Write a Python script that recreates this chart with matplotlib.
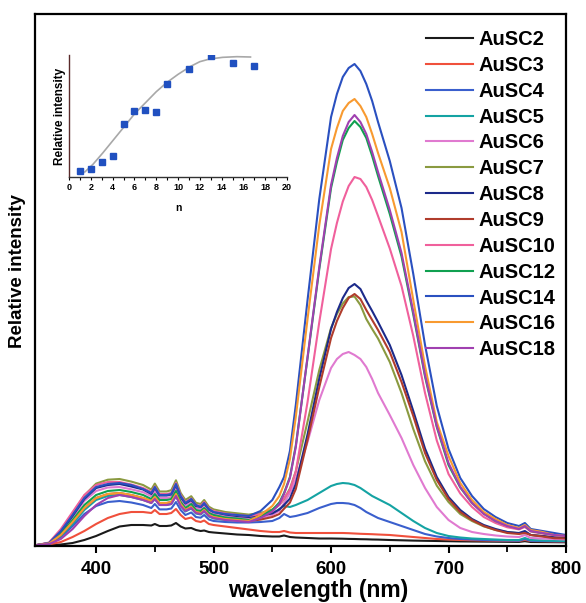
import matplotlib
matplotlib.use("Agg")
import matplotlib.pyplot as plt
from matplotlib.ticker import MultipleLocator, FixedLocator

plt.rcParams['font.family'] = ['Liberation Sans', 'DejaVu Sans']

# ---------------- data ----------------
wavelength = [350, 360, 370, 380, 390, 400, 410, 420, 430, 440, 447, 450, 454, 460, 464, 468, 472, 476,
              481, 485, 489, 492, 496, 500, 510, 520, 530,
              540, 550, 556, 560, 565, 570, 580, 590, 600,
              605, 610, 615, 620, 625, 630, 635, 640,
              650, 660, 670, 680, 690, 700, 710, 720, 730, 740, 750, 760, 765, 770, 780, 790, 800]

labels = ["AuSC2", "AuSC3", "AuSC4", "AuSC5", "AuSC6", "AuSC7", "AuSC8", "AuSC9",
          "AuSC10", "AuSC12", "AuSC14", "AuSC16", "AuSC18"]

colors = ["#1a1a1a", "#f0503c", "#3a5fcd", "#14a3a3", "#e07ad0", "#8a9a40", "#1c2a8a",
          "#b03c2c", "#f0609c", "#10a050", "#2a50c0", "#f89a30", "#a040b0"]

ausc2 = [0, 0, 0.5, 2, 5, 9, 14, 18.5, 20, 20, 19.5, 21, 19, 19, 19.5, 22, 18.5, 16.5, 17, 15, 14, 14.5, 13, 12.5, 11.5, 10.5, 10,
         9, 8.5, 8.5, 9.5, 8, 7.5, 7, 6.5, 6.5,
         6.4, 6.3, 6.1, 6, 5.8, 5.7, 5.5, 5.4,
         5, 4.7, 4.4, 4.2, 4, 3.8, 3.6, 3.5, 3.4, 3.3, 3.2, 3.1, 3.8, 3, 2.9, 2.8, 2.7]
ausc3 = [0, 0.5, 3, 8, 14, 21, 27, 31, 33, 33, 32, 35, 31, 31, 32, 36, 30, 26, 27.5, 24, 23, 24.5, 21, 20, 18.5, 17, 15.5,
         14, 13, 13, 14, 12.5, 12, 12, 12, 12,
         12, 12, 11.8, 11.5, 11.2, 11, 10.8, 10.5,
         10, 9, 8, 7, 6, 5.5, 5, 4.7, 4.5, 4.3, 4.2, 4, 5, 4, 3.8, 3.6, 3.5]
ausc4 = [0, 1, 8, 19, 31, 39, 43, 44, 42.5, 40, 37, 41, 35.6, 35.6, 36.5, 43, 35, 30, 32.5, 28, 27.3, 30, 25.5, 24, 23, 22.5, 22.5,
         23, 24, 27, 31, 28, 29, 32, 37, 41,
         42, 42, 41.5, 40, 37, 33, 30, 27,
         23, 19, 15, 11, 8.5, 7, 6, 5.5, 5, 4.7, 4.5, 4.3, 6, 4.2, 4, 3.8, 3.7]
ausc5 = [0, 1, 9, 21, 35, 45, 49, 50, 48, 45, 42, 46, 40, 40, 41, 49, 39, 33.5, 36.5, 31.5, 30.5, 33.5, 28.5, 26.5, 25, 24.5, 24.5,
         27, 31, 36, 39, 38, 40, 45, 52, 59,
         61, 62, 61.5, 60, 57, 53, 49, 46,
         40, 32, 24, 17, 12, 9, 7.5, 6.5, 6, 5.5, 5, 5, 7, 5, 4.5, 4.2, 4]
ausc6 = [0, 2, 13, 28, 44, 54, 57.5, 58, 55.7, 52.8, 48.7, 54, 47, 47, 48, 57, 45.8, 39.4, 43, 37, 36, 39.4, 33.6, 31.3, 29, 27.8, 26.7,
         27, 30, 34, 42, 52, 66, 103, 145, 177,
         186, 191, 193, 190, 186, 178, 166, 152,
         130, 107, 80, 57, 38, 25, 17, 13, 11, 9.5, 8.5, 8, 10, 7, 6.5, 6, 5.5]
ausc7 = [0, 2, 14.5, 31.7, 49.5, 61.4, 65.3, 66, 63.4, 60, 55.4, 61.4, 53.5, 53.5, 54.8, 64.7, 52, 45, 48.8, 42.2, 41, 45, 38.3, 35.6, 33, 31.7, 30.4,
         32, 35.5, 40.3, 46, 56.4, 73.7, 123.4, 175, 217,
         231, 241.5, 248, 248.5, 240, 226, 216, 206.5,
         183, 152, 116, 83.7, 59.4, 43, 31, 24, 18.6, 15, 13, 11.7, 13, 10, 9, 7.7, 7.5]
ausc8 = [0, 2, 13, 29, 46, 57, 60, 61, 58.5, 55.5, 51, 57, 49.5, 49.5, 50.5, 60, 48, 41.5, 45, 39, 38, 41.5, 35.5, 33, 30.5, 29, 28,
         29.5, 31.6, 35.5, 40, 46.4, 61, 110.6, 166.4, 216,
         233, 247, 257, 261, 256, 244.5, 234, 223,
         200, 170, 134, 96.4, 68, 48, 35, 26, 20, 16, 13, 12, 14, 10, 9, 7.7, 7.4]
ausc9 = [0, 1.5, 10, 23, 37, 47, 51, 52, 50, 47, 44, 48, 42, 42, 43, 51, 41, 35, 38, 33, 32, 35, 30, 28, 26, 25, 24,
         25.4, 28, 31, 36.3, 42.4, 56, 105, 158, 207,
         224, 237, 247, 251, 246, 235, 225, 215,
         193, 163, 129, 92, 65, 46, 33, 25, 19, 15, 12, 11, 12, 10, 8.5, 6.8, 6.6]
ausc10 = [0, 2.5, 16, 33, 50, 60, 63, 63, 60.5, 57, 53, 58.5, 51, 51, 52, 62, 50, 43, 46.5, 40, 39, 43, 36.5, 34, 31.5, 30, 29,
          31, 34.5, 40, 46.5, 55, 73.5, 143, 223, 296,
          322, 343.5, 359, 368, 366, 358, 345, 329,
          296.5, 259, 209, 152, 104.5, 71, 51.5, 38, 28, 22, 17.7, 15.6, 18, 13.4, 11.4, 9.8, 9]
ausc12 = [0, 1.5, 11, 25, 40, 50, 54, 55, 53, 50, 46, 51, 45, 45, 46, 54, 43, 37, 41, 35, 34, 37, 32, 30, 27.5, 26.5, 25,
          29, 35, 42.5, 52, 68, 99.5, 187, 276, 357,
          383, 405, 417, 424, 418, 407, 389, 369,
          331, 288.5, 230.5, 168.5, 118, 80, 57.5, 42, 31.5, 24, 19.5, 16.5, 19, 14, 12, 10.5, 9.5]
ausc14 = [0, 2, 14, 30, 47, 58, 61, 62, 60, 56, 52, 58, 50, 50, 51, 61, 49, 42, 46, 40, 38, 42, 36, 33, 31, 30, 29,
          34, 45, 58, 68, 94, 140, 245, 346, 428,
          451, 468, 477, 481, 474, 461, 444, 423,
          384, 337, 271, 200, 139, 96, 67, 49, 36, 28, 22, 19, 22, 16, 14, 12, 10]
ausc16 = [0, 1.5, 10, 23, 37, 47, 51, 52, 50, 47, 44, 48, 42, 42, 43, 51, 41, 35, 38, 33, 32, 35, 30, 28, 26, 25, 24,
          30, 39, 49, 61, 86, 128, 226, 320, 396,
          417, 434, 442, 446, 439, 428, 411, 392,
          357, 313, 245, 179, 123, 89, 62, 45, 33, 26, 20, 17, 20, 15, 13, 10, 9]
ausc18 = [0, 1, 6, 16, 29, 40, 47, 50, 48, 45, 42, 46, 40, 40, 41, 49, 39, 34, 37, 32, 31, 34, 29, 27, 25, 24, 23,
          27, 33.5, 41, 51, 67, 98, 188, 278, 360,
          387, 409, 423, 430, 423, 411, 393, 373,
          335, 292, 233, 170, 119, 82, 58, 42, 31, 24, 19, 16, 19, 14, 12, 10, 9]

series = [ausc2, ausc3, ausc4, ausc5, ausc6, ausc7, ausc8, ausc9, ausc10, ausc12, ausc14, ausc16, ausc18]

# inset data
inset_n = [1, 2, 3, 4, 5, 6, 7, 8, 9, 11, 13, 15, 17]
inset_intensity = [18, 23, 45, 62, 159, 198, 200, 194, 279, 322, 363, 342, 332]
fit_n = [1.45, 2.2, 3.1, 4.05, 5, 6.04, 7.1, 8, 8.95, 10, 11.1, 12, 12.9, 14.1, 15.4, 16.65]
fit_intensity = [15, 38, 72, 110, 148, 190, 225, 255, 282, 307, 330, 345, 353, 358, 360, 359]

xticks_major = [400, 500, 600, 700, 800]
xticks_minor = [450, 550, 650, 750]
inset_xticks = [0, 2, 4, 6, 8, 10, 12, 14, 16, 18, 20]

# ---------------- figure ----------------
W, H = 586, 603
fig = plt.figure(figsize=(W / 100, H / 100), dpi=100)
ax = fig.add_axes([35 / W, (H - 546) / H, 531 / W, 532 / H])

for y, c, lab in zip(series, colors, labels):
    ax.plot(wavelength, y, color=c, lw=1.5, label=lab)

ax.set_xlim(348, 800)
ax.set_ylim(-1, 531)
ax.set_yticks([])
ax.xaxis.set_major_locator(FixedLocator(xticks_major))
ax.xaxis.set_minor_locator(FixedLocator(xticks_minor))
ax.tick_params(axis='x', which='major', direction='out', length=5, width=1.5, labelsize=13.5, pad=6)
ax.tick_params(axis='x', which='minor', direction='out', length=4, width=1.3)
for lbl in ax.get_xticklabels():
    lbl.set_fontweight('bold')
for s in ax.spines.values():
    s.set_linewidth(1.6)
ax.set_xlabel('wavelength (nm)', fontsize=16.5, fontweight='bold')
ax.xaxis.set_label_coords((318 - 35) / 531, (546 - 591) / 532)
ax.xaxis.label.set_va('center')
ax.set_ylabel('Relative intensity', fontsize=13.5, fontweight='bold')
ax.yaxis.set_label_coords((18 - 35) / 531, (546 - 271) / 532)
ax.yaxis.label.set_va('center')

leg = ax.legend(loc='upper right', frameon=False, handlelength=2.35, handletextpad=0.25,
                labelspacing=0.34, borderaxespad=0.0, bbox_to_anchor=(0.995, 0.985),
                prop={'weight': 'bold', 'size': 14.5})

# ---------------- inset ----------------
ax2 = fig.add_axes([69 / W, (H - 177) / H, 218 / W, 122 / H])
ax2.plot(fit_n, fit_intensity, color='#a8a8a8', lw=1.2)
ax2.plot(inset_n, inset_intensity, 's', color='#2050c0', ms=4, mec='#2050c0')
ax2.set_xlim(0, 20)
ax2.set_ylim(0, 365)
ax2.set_yticks([])
ax2.spines['top'].set_visible(False)
ax2.spines['right'].set_visible(False)
ax2.spines['left'].set_color('#5a2a2a')
ax2.spines['bottom'].set_color('#333333')
ax2.spines['left'].set_linewidth(1.0)
ax2.spines['bottom'].set_linewidth(1.0)
ax2.xaxis.set_major_locator(FixedLocator(inset_xticks))
ax2.xaxis.set_minor_locator(MultipleLocator(1))
ax2.tick_params(axis='x', which='both', direction='out', length=2, width=0.8, labelsize=6.5, pad=2)
for lbl in ax2.get_xticklabels():
    lbl.set_fontweight('bold')
ax2.set_xlabel('n', fontsize=7.5, fontweight='bold', labelpad=8)
ax2.set_ylabel('Relative intensity', fontsize=8.5, fontweight='bold', labelpad=2)
ax2.patch.set_alpha(0)

fig.savefig('out.png', dpi=100)
